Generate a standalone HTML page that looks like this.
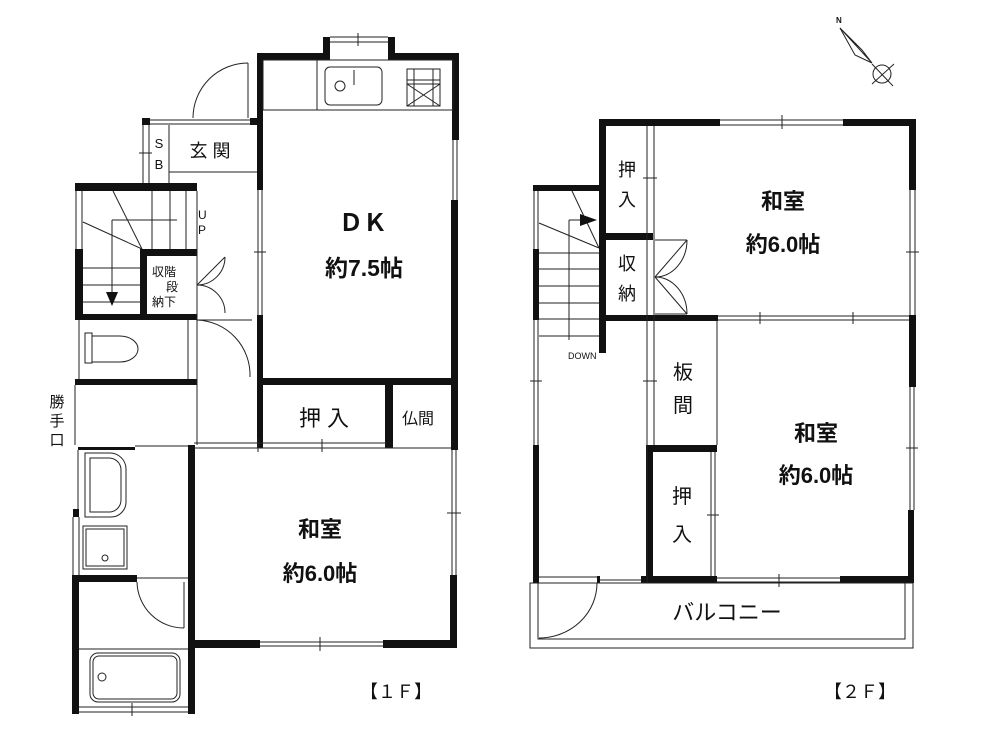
<!DOCTYPE html>
<html><head><meta charset="utf-8"><style>
html,body{margin:0;padding:0;background:#fff;}
svg{display:block}
text{font-family:"Liberation Sans","Noto Sans CJK JP",sans-serif;fill:#111}
.b{font-weight:bold}
</style></head><body>
<svg width="1000" height="748" viewBox="0 0 1000 748" xmlns="http://www.w3.org/2000/svg">
<g fill="#111" stroke="none">
<rect x="323" y="37" width="7" height="23"/><rect x="388" y="37" width="7" height="23"/>
<rect x="257" y="53" width="73" height="7"/><rect x="388" y="53" width="71" height="7"/>
<rect x="257" y="53" width="6" height="137"/><rect x="257" y="315" width="6" height="133"/>
<rect x="452" y="53" width="7" height="87"/><rect x="451" y="200" width="7" height="250"/>
<rect x="450" y="575" width="7" height="73"/>
<rect x="257" y="378" width="201" height="7"/>
<rect x="385" y="378" width="8" height="70"/>
<rect x="188" y="640" width="72" height="8"/><rect x="383" y="640" width="74" height="8"/>
<rect x="188" y="445" width="7" height="269"/>
<rect x="72" y="575" width="7" height="139"/><rect x="72" y="575" width="65" height="7"/>
<rect x="142" y="118" width="8" height="7"/><rect x="250" y="118" width="8" height="7"/>
<rect x="75" y="183" width="122" height="8"/>
<rect x="140" y="249" width="57" height="7"/><rect x="140" y="249" width="7" height="70"/>
<rect x="75" y="249" width="8" height="71"/><rect x="75" y="314" width="122" height="6"/>
<rect x="75" y="379" width="122" height="6"/>
<rect x="78" y="447" width="57" height="3"/><rect x="73" y="509" width="6" height="8"/>
<rect x="599" y="119" width="121" height="7"/><rect x="843" y="119" width="73" height="7"/>
<rect x="909" y="119" width="7" height="71"/><rect x="909" y="315" width="7" height="72"/>
<rect x="908" y="510" width="6" height="73"/>
<rect x="599" y="119" width="7" height="234"/>
<rect x="533" y="185" width="73" height="6"/>
<rect x="533" y="249" width="6" height="71"/><rect x="533" y="445" width="6" height="138"/>
<rect x="606" y="233" width="47" height="7"/><rect x="606" y="315" width="112" height="6"/>
<rect x="646" y="445" width="71" height="7"/><rect x="646" y="445" width="7" height="138"/>
<rect x="641" y="576" width="76" height="7"/><rect x="840" y="576" width="74" height="7"/>
<rect x="597" y="576" width="3" height="7"/>
</g>
<g fill="none" stroke="#222" stroke-width="1">
<line x1="330" y1="37" x2="388" y2="37"/><line x1="330" y1="42" x2="388" y2="42"/><line x1="358" y1="33" x2="358" y2="46"/>
<line x1="453" y1="140" x2="453" y2="200"/><line x1="457" y1="140" x2="457" y2="200"/>
<line x1="258" y1="190" x2="258" y2="315"/><line x1="262" y1="190" x2="262" y2="315"/><line x1="254" y1="252" x2="266" y2="252"/>
<line x1="452" y1="450" x2="452" y2="575"/><line x1="456" y1="450" x2="456" y2="575"/><line x1="447" y1="513" x2="461" y2="513"/>
<line x1="260" y1="642" x2="383" y2="642"/><line x1="260" y1="646" x2="383" y2="646"/><line x1="320" y1="637" x2="320" y2="651"/>
<line x1="194" y1="443" x2="387" y2="443"/><line x1="194" y1="448" x2="451" y2="448"/><line x1="258" y1="439" x2="258" y2="452"/><line x1="322" y1="439" x2="322" y2="452"/>
<line x1="150" y1="120" x2="250" y2="120"/><line x1="150" y1="124" x2="250" y2="124"/>
<line x1="169" y1="125" x2="169" y2="183"/><line x1="169" y1="172" x2="257" y2="172"/>
<line x1="143" y1="125" x2="143" y2="183"/><line x1="149" y1="125" x2="149" y2="183"/><line x1="139" y1="153" x2="152" y2="153"/>
<line x1="76" y1="191" x2="76" y2="249"/><line x1="82" y1="191" x2="82" y2="249"/>
<line x1="79" y1="320" x2="79" y2="379"/><line x1="188" y1="320" x2="188" y2="379"/><line x1="197" y1="191" x2="197" y2="445"/>
<line x1="75" y1="385" x2="75" y2="445"/>
<line x1="135" y1="446" x2="188" y2="446"/>
<line x1="78" y1="450" x2="78" y2="509"/>
<line x1="73" y1="517" x2="73" y2="575"/><line x1="79" y1="517" x2="79" y2="575"/>
<line x1="137" y1="578" x2="188" y2="578"/><line x1="79" y1="649" x2="188" y2="649"/>
<line x1="184" y1="582" x2="184" y2="628"/>
<line x1="79" y1="707" x2="188" y2="707"/><line x1="79" y1="712" x2="188" y2="712"/><line x1="132" y1="703" x2="132" y2="716"/>
<line x1="152" y1="191" x2="152" y2="249"/><line x1="170" y1="191" x2="170" y2="249"/><line x1="186" y1="191" x2="186" y2="249"/>
<line x1="112" y1="220" x2="177" y2="220"/><line x1="112" y1="220" x2="112" y2="295"/>
<line x1="113" y1="191" x2="142" y2="249"/><line x1="83" y1="222" x2="142" y2="249"/>
<line x1="83" y1="268" x2="140" y2="268"/><line x1="83" y1="285" x2="140" y2="285"/><line x1="83" y1="302" x2="140" y2="302"/>
<line x1="248" y1="63" x2="248" y2="118"/><path d="M248,63 A55,55 0 0 0 193,118"/>
<path d="M197,285 L225,257"/><path d="M225,257 A28,28 0 0 1 197,285 M197,285 A28,28 0 0 1 225,313"/>
<path d="M197,320 L252,320 M197,320 A55,55 0 0 1 250,377"/>
<path d="M137,582 A47,47 0 0 0 184,628"/>
<rect x="263" y="60" width="190" height="50"/><line x1="317" y1="60" x2="317" y2="110"/>
<rect x="325" y="67" width="57" height="38" rx="5"/><circle cx="340" cy="86" r="5"/><line x1="354" y1="70" x2="354" y2="85"/>
<rect x="407" y="69" width="33" height="37"/><line x1="407" y1="80" x2="440" y2="80"/><line x1="407" y1="84" x2="440" y2="84"/><line x1="414" y1="69" x2="414" y2="106"/><line x1="433" y1="69" x2="433" y2="106"/><line x1="407" y1="84" x2="440" y2="106"/><line x1="440" y1="84" x2="407" y2="106"/>
<rect x="85" y="333" width="7" height="30"/><path d="M92,336 L120,336 A18,13 0 0 1 120,362 L92,362"/>
<path d="M85,453 L110,453 A16,16 0 0 1 126,469 L126,502 A15,15 0 0 1 111,517 L85,517 Z"/>
<path d="M90,458 L108,458 A12,12 0 0 1 121,470 L121,500 A12,12 0 0 1 108,512 L90,512 Z"/>
<rect x="83" y="526" width="44" height="43"/><rect x="86" y="529" width="38" height="37"/><circle cx="105" cy="558" r="3"/>
<rect x="93" y="656" width="84" height="43" rx="6"/><rect x="90" y="653" width="90" height="49" rx="8"/><circle cx="102" cy="677" r="4"/>
<line x1="720" y1="120" x2="843" y2="120"/><line x1="720" y1="125" x2="843" y2="125"/><line x1="782" y1="115" x2="782" y2="129"/>
<line x1="910" y1="190" x2="910" y2="315"/><line x1="915" y1="190" x2="915" y2="315"/><line x1="906" y1="252" x2="919" y2="252"/>
<line x1="910" y1="387" x2="910" y2="510"/><line x1="914" y1="387" x2="914" y2="510"/><line x1="906" y1="448" x2="918" y2="448"/>
<line x1="534" y1="191" x2="534" y2="249"/><line x1="538" y1="191" x2="538" y2="249"/>
<line x1="534" y1="320" x2="534" y2="445"/><line x1="538" y1="320" x2="538" y2="445"/><line x1="530" y1="381" x2="542" y2="381"/>
<line x1="647" y1="126" x2="647" y2="583"/><line x1="654" y1="126" x2="654" y2="445"/><line x1="643" y1="178" x2="657" y2="178"/><line x1="643" y1="381" x2="657" y2="381"/>
<line x1="717" y1="321" x2="717" y2="445"/><line x1="711" y1="452" x2="711" y2="576"/><line x1="715" y1="452" x2="715" y2="576"/><line x1="707" y1="515" x2="719" y2="515"/>
<line x1="718" y1="316" x2="909" y2="316"/><line x1="718" y1="320" x2="909" y2="320"/><line x1="760" y1="312" x2="760" y2="324"/><line x1="853" y1="312" x2="853" y2="324"/>
<line x1="717" y1="578" x2="840" y2="578"/><line x1="717" y1="582" x2="840" y2="582"/><line x1="779" y1="574" x2="779" y2="587"/>
<line x1="539" y1="577" x2="597" y2="577"/><line x1="600" y1="580" x2="641" y2="580"/>
<rect x="530" y="583" width="383" height="65"/><rect x="538" y="583" width="367" height="56"/>
<path d="M539,583 L597,583 M597,583 A58,55 0 0 1 539,638"/>
<line x1="539" y1="253" x2="599" y2="253"/><line x1="539" y1="269" x2="599" y2="269"/><line x1="539" y1="286" x2="599" y2="286"/><line x1="539" y1="303" x2="599" y2="303"/><line x1="539" y1="319" x2="599" y2="319"/><line x1="539" y1="336" x2="599" y2="336"/>
<line x1="569" y1="220" x2="569" y2="340"/><line x1="569" y1="220" x2="590" y2="220"/>
<line x1="572" y1="191" x2="599" y2="248"/><line x1="539" y1="223" x2="599" y2="248"/>
<path d="M655,277 L687,240 M687,240 A32,37 0 0 1 655,277 A32,37 0 0 1 687,314 M655,277 L687,314 M655,240 L687,240 M655,314 L687,314"/>
<path d="M840,28 L862,50 L872,63 Z"/><path d="M840,28 L855,55 L872,63"/>
<circle cx="882" cy="74" r="9"/><line x1="872" y1="84" x2="894" y2="64"/><line x1="872" y1="64" x2="893" y2="86"/>
</g>
<path d="M106,292 L118,292 L112,306 Z" fill="#111"/>
<path d="M580,214 L597,220 L580,226 Z" fill="#111"/>
<text x="836" y="23" font-size="8" class="b">N</text>
<text x="210" y="157" font-size="18" text-anchor="middle">玄 関</text>
<text x="159" y="148" font-size="13" text-anchor="middle">S</text>
<text x="159" y="169" font-size="13" text-anchor="middle">B</text>
<text x="198" y="219" font-size="12">U</text><text x="198" y="234" font-size="12">P</text>
<text x="152" y="276" font-size="12">収階</text><text x="166" y="291" font-size="12">段</text><text x="152" y="306" font-size="12">納下</text>
<text x="363" y="231" font-size="24" class="b" text-anchor="middle">ＤＫ</text>
<text x="364" y="276" font-size="23" class="b" text-anchor="middle">約7.5帖</text>
<text x="324" y="426" font-size="22" text-anchor="middle">押 入</text>
<text x="418" y="424" font-size="16" text-anchor="middle">仏間</text>
<text x="57" y="407" font-size="15" text-anchor="middle">勝</text><text x="57" y="426" font-size="15" text-anchor="middle">手</text><text x="57" y="445" font-size="15" text-anchor="middle">口</text>
<text x="320" y="537" font-size="22" class="b" text-anchor="middle">和室</text>
<text x="320" y="581" font-size="22" class="b" text-anchor="middle">約6.0帖</text>
<text x="396" y="698" font-size="18" text-anchor="middle">【１Ｆ】</text>
<text x="627" y="176" font-size="18" text-anchor="middle">押</text><text x="627" y="206" font-size="18" text-anchor="middle">入</text>
<text x="627" y="270" font-size="18" text-anchor="middle">収</text><text x="627" y="300" font-size="18" text-anchor="middle">納</text>
<text x="683" y="379" font-size="20" text-anchor="middle">板</text><text x="683" y="412" font-size="20" text-anchor="middle">間</text>
<text x="682" y="503" font-size="20" text-anchor="middle">押</text><text x="682" y="541" font-size="20" text-anchor="middle">入</text>
<text x="783" y="209" font-size="22" class="b" text-anchor="middle">和室</text>
<text x="783" y="252" font-size="22" class="b" text-anchor="middle">約6.0帖</text>
<text x="816" y="441" font-size="22" class="b" text-anchor="middle">和室</text>
<text x="816" y="483" font-size="22" class="b" text-anchor="middle">約6.0帖</text>
<text x="568" y="359" font-size="9">DOWN</text>
<text x="727" y="620" font-size="22" text-anchor="middle">バルコニー</text>
<text x="860" y="698" font-size="18" text-anchor="middle">【２Ｆ】</text>
</svg>
</body></html>
